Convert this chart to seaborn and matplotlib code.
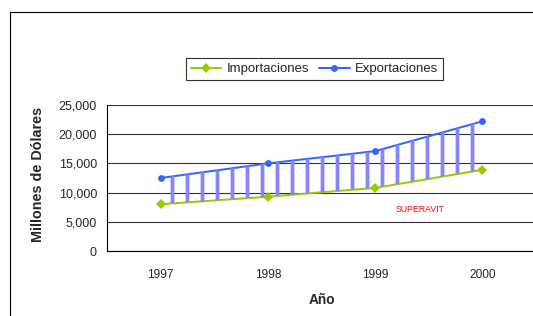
import pandas as pd
import matplotlib
matplotlib.use("Agg")
import matplotlib.pyplot as plt
import seaborn as sns
from matplotlib.patches import Rectangle
from matplotlib.ticker import FuncFormatter

# Values
years = ["1997", "1998", "1999", "2000"]
importaciones = [8000, 9300, 10800, 13900]
exportaciones = [12500, 15000, 17100, 22200]
yticks = [0, 5000, 10000, 15000, 20000, 25000]

sns.set_style("white")
plt.rcParams["font.family"] = ["Liberation Sans", "DejaVu Sans"]
plt.rcParams["hatch.linewidth"] = 3.0

df = pd.DataFrame({
    "year": years * 2,
    "value": importaciones + exportaciones,
    "serie": ["Importaciones"] * 4 + ["Exportaciones"] * 4,
})
df["x"] = df["year"].map({y: i for i, y in enumerate(years)})

dpi = 90
fig = plt.figure(figsize=(533 / dpi, 316 / dpi), dpi=dpi)
ax = fig.add_axes([107 / 533, 1 - 251 / 316, 429 / 533, 146 / 316])

sns.lineplot(data=df, x="x", y="value", hue="serie", style="serie",
             hue_order=["Importaciones", "Exportaciones"],
             palette={"Importaciones": "#99cc00", "Exportaciones": "#3366ff"},
             markers={"Importaciones": "D", "Exportaciones": "o"},
             dashes=False, linewidth=1.6, markersize=5.5,
             markeredgewidth=0, ax=ax, zorder=3)

# hatched area between the two series (superavit)
ax.fill_between(range(len(years)), importaciones, exportaciones,
                facecolor="none", edgecolor="#8585ff", linewidth=0,
                hatch="|", zorder=4)

ax.set_xlim(-0.5, 3.5)
ax.set_ylim(0, 25000)
ax.set_yticks(yticks)
ax.yaxis.set_major_formatter(FuncFormatter(lambda v, p: f"{int(v):,}"))
ax.yaxis.grid(True, color="#333333", linewidth=0.9)
ax.set_axisbelow(True)

ax.set_xticks(range(len(years)))
ax.set_xticklabels(years)
ax.set_xticks([i + 0.5 for i in range(len(years) - 1)] + [-0.5], minor=True)
ax.tick_params(axis="x", which="major", length=0, pad=14, labelsize=9.5)
ax.tick_params(axis="x", which="minor", length=4, width=0.9, direction="out", color="black")
ax.tick_params(axis="y", length=5, width=0.9, direction="out", color="black", labelsize=10, pad=3)

for s in ["top", "right"]:
    ax.spines[s].set_visible(False)
for s in ["left", "bottom"]:
    ax.spines[s].set_color("black")
    ax.spines[s].set_linewidth(0.9)

ax.set_xlabel("Año", fontsize=11, fontweight="bold", labelpad=10)
ax.set_ylabel("Millones de Dólares", fontsize=11.5, fontweight="bold")
ax.yaxis.set_label_coords(45 / 533, 1 - 174 / 316, transform=fig.transFigure)

ax.text(420 / 533, 1 - 209 / 316, "SUPERAVIT", transform=fig.transFigure,
        ha="center", va="center", color="#ff0000", fontsize=7)

handles, labels = ax.get_legend_handles_labels()
leg = fig.legend(handles, labels, loc="center", ncol=2,
                 bbox_to_anchor=(314.5 / 533, 1 - 69 / 316), fontsize=10.5,
                 frameon=True, fancybox=False, handlelength=2.3,
                 handletextpad=0.4, columnspacing=0.8, borderpad=0.4)
leg.get_frame().set_edgecolor("black")
leg.get_frame().set_linewidth(0.9)
ax.get_legend().remove()

# outer chart border
fig.patches.append(Rectangle((10 / 533, -0.1), 1.2, 1 - 12 / 316 + 0.1,
                             transform=fig.transFigure, fill=False,
                             edgecolor="black", linewidth=0.9))

plt.savefig("out.png", dpi=dpi)
